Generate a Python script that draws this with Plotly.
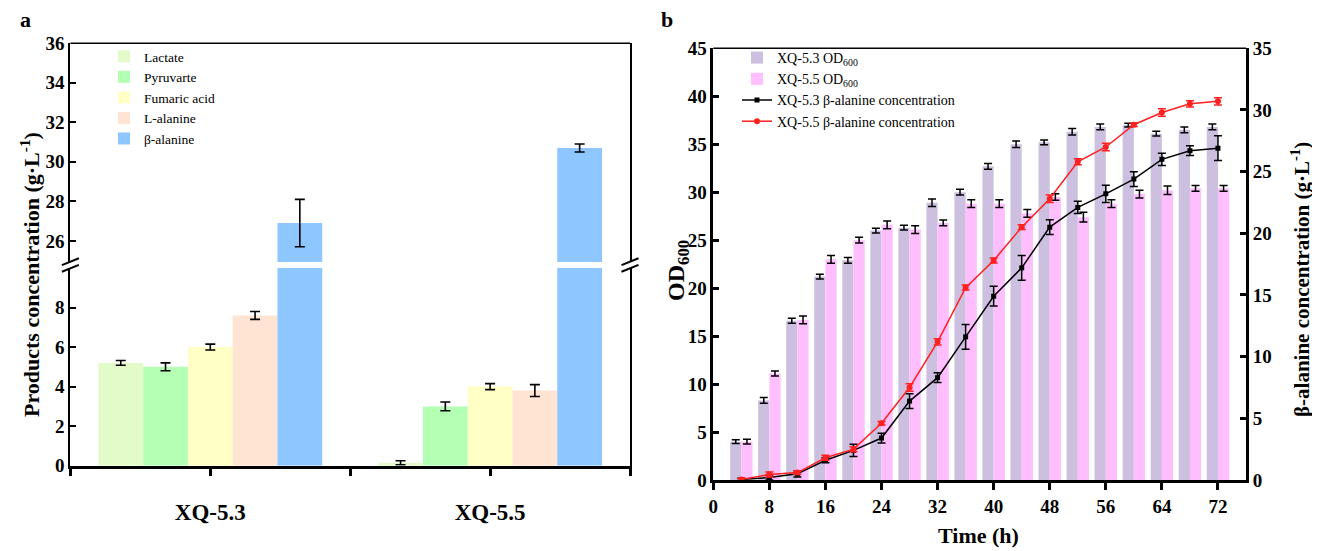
import plotly.graph_objects as go

# ---------------- Panel a data ----------------
strains = ["XQ-5.3", "XQ-5.5"]
strain_pos = [0, 1]
products = ["Lactate", "Pyruvarte", "Fumaric acid", "L-alanine", "β-alanine"]
prod_53 = [5.2, 5.0, 6.0, 7.6, 26.9]
prod_53_err = [0.12, 0.2, 0.15, 0.2, 1.2]
prod_55 = [0.15, 3.0, 4.0, 3.8, 30.7]
prod_55_err = [0.1, 0.22, 0.15, 0.3, 0.2]
prod_colors = ["#e2fbc8", "#b3ffb3", "#ffffc6", "#ffe4d4", "#8ec6ff"]
ticks_a_low = [0, 2, 4, 6, 8]
ticks_a_up = [26, 28, 30, 32, 34, 36]

# ---------------- Panel b data ----------------
time_h = [4, 8, 12, 16, 20, 24, 28, 32, 36, 40, 44, 48, 52, 56, 60, 64, 68, 72]
od_53 = [4.0, 8.3, 16.6, 21.2, 22.9, 26.0, 26.3, 28.9, 30.0, 32.7, 35.0, 35.2, 36.3, 36.8, 37.0, 36.1, 36.5, 36.8]
od_53_err = [0.2, 0.3, 0.25, 0.25, 0.3, 0.25, 0.25, 0.4, 0.3, 0.3, 0.35, 0.25, 0.35, 0.3, 0.2, 0.25, 0.3, 0.3]
od_55 = [4.0, 11.1, 16.7, 23.0, 25.0, 26.6, 26.1, 26.8, 28.8, 28.8, 27.8, 29.5, 27.4, 28.8, 29.8, 30.2, 30.4, 30.4]
od_55_err = [0.25, 0.25, 0.4, 0.4, 0.3, 0.4, 0.4, 0.3, 0.4, 0.4, 0.4, 0.35, 0.5, 0.4, 0.4, 0.45, 0.3, 0.3]
ba_53 = [0.05, 0.2, 0.5, 1.6, 2.4, 3.4, 6.4, 8.3, 11.6, 14.9, 17.2, 20.5, 22.1, 23.2, 24.4, 26.0, 26.7, 26.9]
ba_53_err = [0.1, 0.2, 0.25, 0.2, 0.5, 0.4, 0.6, 0.4, 1.0, 0.8, 1.0, 0.6, 0.5, 0.7, 0.6, 0.5, 0.4, 1.0]
ba_55 = [0.05, 0.45, 0.6, 1.8, 2.5, 4.6, 7.5, 11.2, 15.6, 17.8, 20.5, 22.8, 25.8, 27.0, 28.8, 29.8, 30.5, 30.7]
ba_55_err = [0.1, 0.2, 0.15, 0.2, 0.2, 0.15, 0.3, 0.25, 0.2, 0.2, 0.2, 0.3, 0.25, 0.3, 0.15, 0.3, 0.25, 0.3]
ticks_time = [0, 8, 16, 24, 32, 40, 48, 56, 64, 72]
ticks_od = [0, 5, 10, 15, 20, 25, 30, 35, 40, 45]
ticks_ba = [0, 5, 10, 15, 20, 25, 30, 35]

# page body has an 8px margin: figure sized to fit the 1320x551 window exactly
OFF = 8
W, H = 1320 - OFF, 551 - OFF
FONT = "Liberation Serif"

def px_x(p):
    return (p - OFF) / W

def px_y(p):
    return 1 - (p - OFF) / H

def btxt(vals):
    return ["<b>%g</b>" % v for v in vals]

fig = go.Figure()

# ---- panel a bars: lower segment (y) and upper segment (y3)
for i, name in enumerate(products):
    vals = [prod_53[i], prod_55[i]]
    errs = [prod_53_err[i], prod_55_err[i]]
    for yax, show in (("y", True), ("y3", False)):
        fig.add_trace(go.Bar(
            x=strain_pos, y=vals, name=name, marker_color=prod_colors[i],
            marker_line_width=0,
            error_y=dict(type="data", array=errs, color="black", thickness=1.6, width=5),
            xaxis="x", yaxis=yax, showlegend=show, legend="legend",
        ))

# ---- panel b bars
fig.add_trace(go.Bar(
    x=time_h, y=od_53, name="XQ-5.3 OD<sub>600</sub>", marker_color="#cdbfdf",
    marker_line_width=0,
    error_y=dict(type="data", array=od_53_err, color="black", thickness=1.5, width=4),
    xaxis="x2", yaxis="y2", legend="legend2",
))
fig.add_trace(go.Bar(
    x=time_h, y=od_55, name="XQ-5.5 OD<sub>600</sub>", marker_color="#ffbfff",
    marker_line_width=0,
    error_y=dict(type="data", array=od_55_err, color="black", thickness=1.5, width=4),
    xaxis="x2", yaxis="y2", legend="legend2",
))
# ---- panel b lines
fig.add_trace(go.Scatter(
    x=time_h, y=ba_53, name="XQ-5.3 β-alanine concentration", mode="lines+markers",
    line=dict(color="black", width=1.5), marker=dict(symbol="square", size=5, color="black"),
    error_y=dict(type="data", array=ba_53_err, color="black", thickness=1.5, width=4),
    xaxis="x2", yaxis="y4", legend="legend2",
))
fig.add_trace(go.Scatter(
    x=time_h, y=ba_55, name="XQ-5.5 β-alanine concentration", mode="lines+markers",
    line=dict(color="#ff2020", width=1.5), marker=dict(symbol="circle", size=6, color="#ff2020"),
    error_y=dict(type="data", array=ba_55_err, color="#ff2020", thickness=1.5, width=4),
    xaxis="x2", yaxis="y4", legend="legend2",
))

tickfont = dict(family=FONT, size=19, color="black")

# domains
xa_dom = [px_x(70.4), px_x(630)]
ya_low = [px_y(465.7), px_y(268)]
ya_up = [px_y(262), px_y(43.3)]
xb_dom = [px_x(713.3), px_x(1246)]
yb_dom = [px_y(480), px_y(48.3)]

common = dict(showgrid=False, zeroline=False, automargin=False, linecolor="black", tickcolor="black")

fig.update_layout(
    width=W, height=H,
    margin=dict(l=0, r=0, t=0, b=0, pad=0),
    paper_bgcolor="white", plot_bgcolor="rgba(0,0,0,0)",
    barmode="group", bargap=0.2, bargroupgap=0,
    font=dict(family=FONT, color="black"),
    xaxis=dict(
        domain=xa_dom, range=[-0.5, 1.5], anchor="y",
        tickmode="array", tickvals=[-0.5, 0, 0.5, 1, 1.5],
        ticktext=["", "<b>%s</b>" % strains[0], "", "<b>%s</b>" % strains[1], ""],
        ticks="outside", ticklen=7, tickwidth=2.5,
        showline=True, linewidth=3,
        tickfont=dict(family=FONT, size=23, color="black"),
        ticklabelstandoff=17, **common,
    ),
    yaxis=dict(
        domain=ya_low, range=[0, 10.0], anchor="x",
        tickmode="array", tickvals=ticks_a_low, ticktext=btxt(ticks_a_low),
        ticks="inside", ticklen=6, tickwidth=2,
        showline=True, linewidth=2, mirror=True,
        tickfont=tickfont, **common,
    ),
    yaxis3=dict(
        domain=ya_up, range=[24.93, 36], anchor="x",
        tickmode="array", tickvals=ticks_a_up, ticktext=btxt(ticks_a_up),
        ticks="inside", ticklen=6, tickwidth=2,
        showline=True, linewidth=2, mirror=True,
        tickfont=tickfont, **common,
    ),
    xaxis2=dict(
        domain=xb_dom, range=[0, 76], anchor="y2",
        tickmode="array", tickvals=ticks_time, ticktext=btxt(ticks_time),
        ticks="outside", ticklen=7, tickwidth=2.5,
        showline=True, linewidth=3,
        tickfont=tickfont, **common,
    ),
    yaxis2=dict(
        domain=yb_dom, range=[0, 45], anchor="x2",
        tickmode="array", tickvals=ticks_od, ticktext=btxt(ticks_od),
        ticks="inside", ticklen=6, tickwidth=2.5,
        showline=True, linewidth=2.5,
        tickfont=tickfont, **common,
    ),
    yaxis4=dict(
        overlaying="y2", side="right", range=[0, 35], anchor="x2",
        tickmode="array", tickvals=ticks_ba, ticktext=btxt(ticks_ba),
        ticks="inside", ticklen=6, tickwidth=2.5,
        showline=True, linewidth=3,
        tickfont=tickfont, **common,
    ),
    legend=dict(
        x=px_x(104), y=px_y(41), xanchor="left", yanchor="top",
        bgcolor="rgba(0,0,0,0)", font=dict(family=FONT, size=13.5, color="black"),
        tracegroupgap=0, itemwidth=30,
    ),
    legend2=dict(
        x=px_x(737), y=px_y(42), xanchor="left", yanchor="top",
        bgcolor="rgba(0,0,0,0)", font=dict(family=FONT, size=14, color="black"),
        tracegroupgap=0, itemwidth=30,
    ),
)

# frame top borders
fig.add_shape(type="line", xref="x domain", yref="y3 domain", x0=0, x1=1, y0=1, y1=1,
              line=dict(color="black", width=1.5))
fig.add_shape(type="line", xref="x2 domain", yref="y2 domain", x0=0, x1=1, y0=1, y1=1,
              line=dict(color="black", width=1.5))

# axis-break marks
for xb in (70.4, 630):
    for yb in (261.7, 268.3):
        fig.add_shape(type="line", xref="paper", yref="paper",
                      x0=px_x(xb - 8.5), y0=px_y(yb + 3.4), x1=px_x(xb + 8.5), y1=px_y(yb - 3.4),
                      line=dict(color="black", width=2))

ann = [
    dict(text="<b>a</b>", x=px_x(25), y=px_y(20), size=22),
    dict(text="<b>b</b>", x=px_x(667), y=px_y(20), size=22),
    dict(text="<b>Products concentration (g·L<sup>-1</sup>)</b>", x=px_x(30), y=px_y(275), size=22, angle=-90),
    dict(text="<b>OD<sub>600</sub></b>", x=px_x(678), y=px_y(270), size=24, angle=-90),
    dict(text="<b>β-alanine concentration (g·L<sup>-1</sup>)</b>", x=px_x(1300), y=px_y(280), size=21, angle=-90),
    dict(text="<b>Time (h)</b>", x=px_x(978), y=px_y(535), size=22),
]
for a in ann:
    fig.add_annotation(text=a["text"], x=a["x"], y=a["y"], xref="paper", yref="paper",
                       showarrow=False, textangle=a.get("angle", 0),
                       font=dict(size=a["size"], family=FONT, color="black"),
                       xanchor="center", yanchor="middle")

fig.write_html("out.html")
